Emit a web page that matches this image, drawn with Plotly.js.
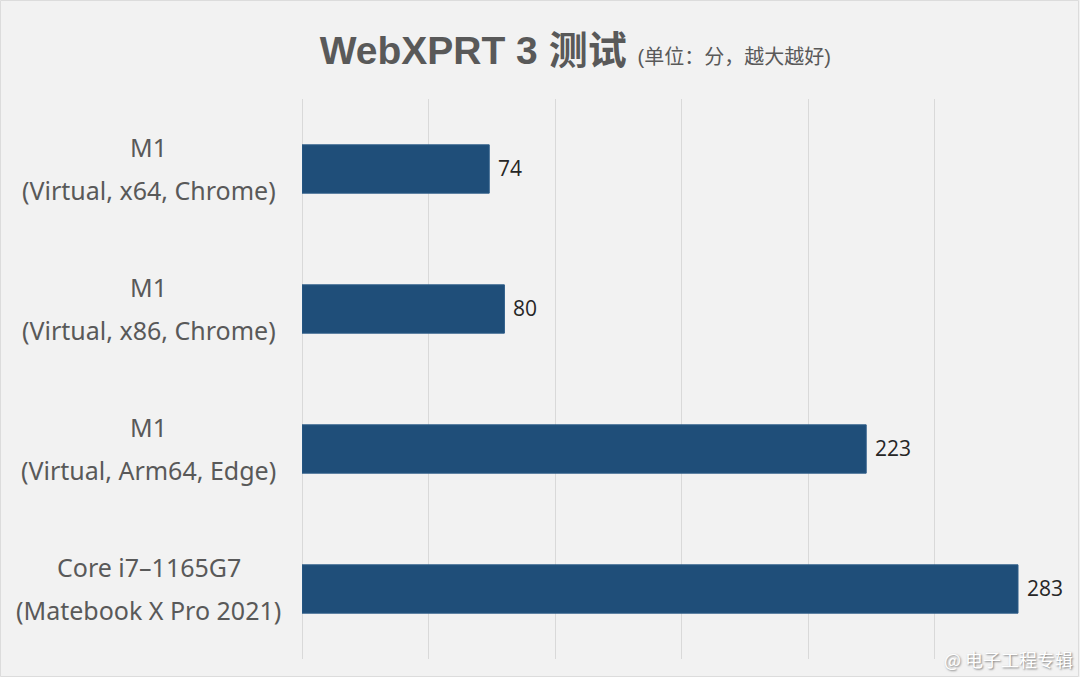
<!DOCTYPE html>
<html>
<head>
<meta charset="utf-8">
<script src="https://cdn.plot.ly/plotly-3.0.1.min.js"></script>
<style>html,body{margin:0;padding:0;background:#f2f2f2;}</style>
</head>
<body>
<div id="chart" style="width:1080px;height:677px;"></div>
<script>
const categories = ["M1 x64 Chrome", "M1 x86 Chrome", "M1 Arm64 Edge", "Core i7-1165G7"];
const labelLine1 = ["M1", "M1", "M1", "Core i7\u20131165G7"];
const labelLine2 = ["(Virtual, x64, Chrome)", "(Virtual, x86, Chrome)", "(Virtual, Arm64, Edge)", "(Matebook X Pro 2021)"];
const scores = [74, 80, 223, 283];
const titleMain = "WebXPRT 3 测试";
const titleSub = "(单位：分，越大越好)";
const watermark = "@ 电子工程专辑";

const labelFont = '"Noto Sans", "Noto Sans CJK SC", sans-serif';

const trace = {
  type: 'bar',
  orientation: 'h',
  y: categories,
  x: scores,
  width: 0.345,
  marker: {color: '#1f4e79', line: {color: '#2a5a87', width: 1}},
  hoverinfo: 'none'
};

const annotations = [];
categories.forEach((c, i) => {
  annotations.push({xref: 'paper', yref: 'y', x: -0.202, y: c, xanchor: 'center', yanchor: 'middle',
    yshift: 22, text: labelLine1[i], showarrow: false, font: {family: labelFont, size: 25, color: '#595959'}});
  annotations.push({xref: 'paper', yref: 'y', x: -0.202, y: c, xanchor: 'center', yanchor: 'middle',
    yshift: -21, text: labelLine2[i], showarrow: false, font: {family: labelFont, size: 25, color: '#595959'}});
  annotations.push({xref: 'x', yref: 'y', x: scores[i], y: c, xanchor: 'left', yanchor: 'middle',
    xshift: 7, yshift: 1, text: String(scores[i]), showarrow: false,
    font: {family: '"Open Sans", "Noto Sans", sans-serif', size: 21, color: '#262626'}});
});
annotations.push({xref: 'paper', yref: 'paper', x: 1.018, y: 0.0, xanchor: 'right', yanchor: 'middle',
  text: watermark, showarrow: false,
  font: {family: '"Noto Sans CJK SC", sans-serif', size: 18, color: '#ffffff', shadow: '1px 1px 2px #7a7a7a'}});

const layout = {
  width: 1080, height: 677,
  paper_bgcolor: '#f2f2f2', plot_bgcolor: '#f2f2f2',
  margin: {l: 302, r: 19, t: 99, b: 18},
  showlegend: false,
  title: {
    text: '<b>' + titleMain + '</b> <span style="font-size:20px">' + titleSub + '</span>',
    font: {family: '"Liberation Sans", "Noto Sans CJK SC", sans-serif', size: 39, color: '#595959'},
    xref: 'paper', x: 0.36, xanchor: 'center', yref: 'container', y: 0.925, yanchor: 'middle'
  },
  xaxis: {
    range: [0, 300], dtick: 50, showticklabels: false, showgrid: true,
    gridcolor: '#d9d9d9', gridwidth: 1, zeroline: true, zerolinecolor: '#d9d9d9', zerolinewidth: 1,
    showline: false, fixedrange: true
  },
  yaxis: {
    categoryorder: 'array', categoryarray: categories, autorange: 'reversed',
    showticklabels: false, showgrid: false, zeroline: false, showline: false, fixedrange: true
  },
  annotations: annotations,
  shapes: [{type: 'rect', xref: 'paper', yref: 'paper',
    x0: -301.5/759, x1: 1 + 17.5/759, y0: -17.5/560, y1: 1 + 98.5/560,
    line: {color: '#dcdcdc', width: 1}, fillcolor: 'rgba(0,0,0,0)', layer: 'below'}]
};

Plotly.newPlot('chart', [trace], layout, {displayModeBar: false, staticPlot: true});
</script>
</body>
</html>
